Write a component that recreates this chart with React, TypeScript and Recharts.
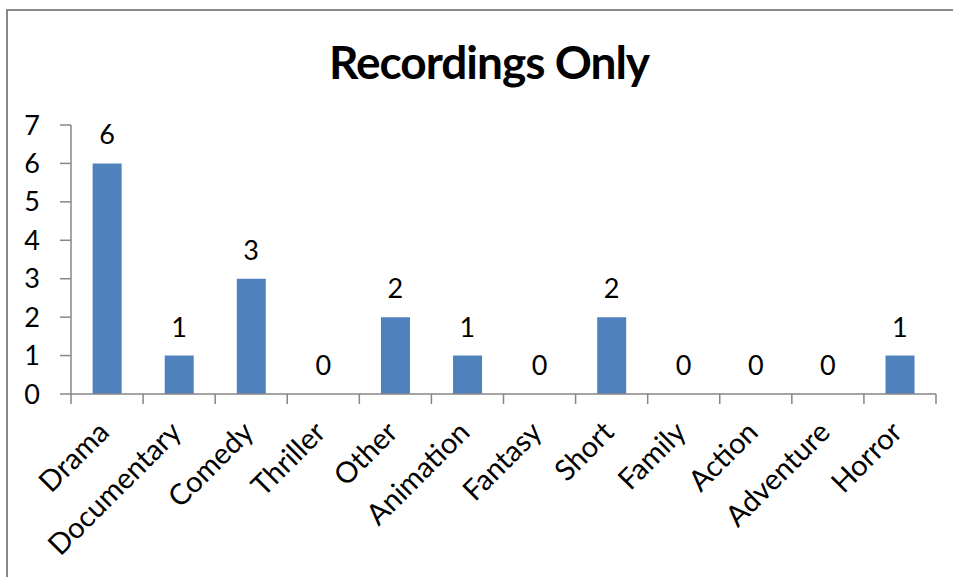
import React from "react";
import { ComposedChart, Bar, Line, XAxis, YAxis, LabelList } from "recharts";

const categories = [
  "Drama",
  "Documentary",
  "Comedy",
  "Thriller",
  "Other",
  "Animation",
  "Fantasy",
  "Short",
  "Family",
  "Action",
  "Adventure",
  "Horror",
];
const counts = [6, 1, 3, 0, 2, 1, 0, 2, 0, 0, 0, 1];
const yTicks = [0, 1, 2, 3, 4, 5, 6, 7];

const data = categories.map((name, i) => ({ name, count: counts[i] }));

const W = 953;
const H = 577;
const PLOT_LEFT = 71;
const PLOT_RIGHT = 936;
const AXIS_Y = 394;
const BAND = (PLOT_RIGHT - PLOT_LEFT) / categories.length;
const AXIS_COLOR = "#868686";
const FONT = "Lato, 'Noto Sans', sans-serif";

const CategoryTick = (props: any) => {
  const { x, payload, index } = props;
  const left = x - BAND / 2;
  const ax = x + 4;
  const ay = AXIS_Y + 40;
  return (
    <g>
      <line x1={left} x2={left} y1={AXIS_Y} y2={AXIS_Y + 10} stroke={AXIS_COLOR} strokeWidth={1.5} />
      {index === categories.length - 1 && (
        <line
          x1={x + BAND / 2}
          x2={x + BAND / 2}
          y1={AXIS_Y}
          y2={AXIS_Y + 10}
          stroke={AXIS_COLOR}
          strokeWidth={1.5}
        />
      )}
      <text
        x={ax}
        y={ay}
        textAnchor="end"
        transform={`rotate(-45 ${ax} ${ay})`}
        fontFamily={FONT}
        fontSize={29}
        fill="#000"
      >
        {payload.value}
      </text>
    </g>
  );
};

export default function App() {
  return (
    <div style={{ position: "absolute", left: 0, top: 0, width: W, height: H, background: "#fff" }}>
      <svg
        width={W}
        height={H}
        style={{ position: "absolute", left: 0, top: 0, pointerEvents: "none" }}
      >
        <rect x={7} y={10} width={1000} height={1000} fill="none" stroke="#888888" strokeWidth={2} />
        <text
          x={489}
          y={79}
          textAnchor="middle"
          fontFamily={FONT}
          fontWeight="bold"
          fontSize={46}
          letterSpacing={-1}
          fill="#000"
        >
          Recordings Only
        </text>
      </svg>
      <ComposedChart
        width={W}
        height={H}
        data={data}
        margin={{ top: 125, right: W - PLOT_RIGHT, bottom: 0, left: 0 }}
        barCategoryGap="30%"
        style={{ position: "absolute", left: 0, top: 0 }}
      >
        <XAxis
          dataKey="name"
          height={H - AXIS_Y}
          interval={0}
          tickLine={false}
          axisLine={{ stroke: AXIS_COLOR, strokeWidth: 1.5 }}
          tick={<CategoryTick />}
        />
        <YAxis
          width={PLOT_LEFT}
          domain={[0, 7]}
          ticks={yTicks}
          interval={0}
          tickSize={11}
          tickMargin={20}
          axisLine={{ stroke: AXIS_COLOR, strokeWidth: 1.5 }}
          tickLine={{ stroke: AXIS_COLOR, strokeWidth: 1.5 }}
          tick={{ fill: "#000", fontSize: 27, fontFamily: FONT }}
        />
        <Bar dataKey="count" fill="#4F81BD" isAnimationActive={false} />
        <Line
          dataKey="count"
          stroke="none"
          dot={false}
          activeDot={false}
          isAnimationActive={false}
        >
          <LabelList
            dataKey="count"
            position="top"
            offset={19}
            fill="#000"
            fontSize={27}
            fontFamily={FONT}
          />
        </Line>
      </ComposedChart>
    </div>
  );
}
